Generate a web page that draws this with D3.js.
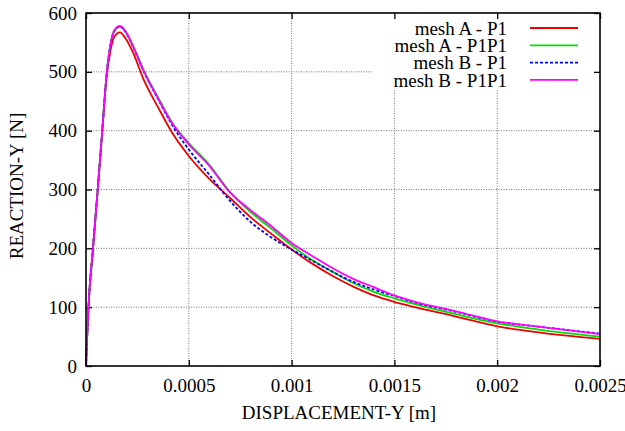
<!DOCTYPE html>
<html><head><meta charset="utf-8">
<script src="https://cdn.jsdelivr.net/npm/d3@7"></script>
<style>body{margin:0;background:#fff}svg{display:block}</style>
</head><body><svg id="c" width="625" height="431"></svg>
<script>
const disp = [0,0.000005,0.000012,0.000034,0.000057,0.000079,0.0001,0.00012,0.00014,0.000165,0.00019,0.00023,0.00028,0.00035,0.00042,0.0005,0.0006,0.0007,0.0008,0.0009,0.001,0.0011,0.0012,0.0013,0.0014,0.0015,0.0016,0.0018,0.002,0.0022,0.0025];
const meshA_P1   = [0,45,100,200,300,398,490,538,561,567,558,532,487,440,396,357,318,286,253,225,198,174,153,135,120,109,100,84,67.5,57,46];
const meshA_P1P1 = [0,45,100,200,300,400,495,548,571,577,569,543,503,457,413,379,342,296,262,234,205,180,160,141,126,115,105,88,72.5,62,50];
const meshB_P1   = [0,45,100,200,300,400,495,548,571,577,569,542,501,454,409,368,325,281,245,219,198,179,160,143,130,119,108,92,75.5,67,55];
const meshB_P1P1 = [0,45,100,200,300,400,495,548,572,578,570,543,502,455,412,377,340,295,265,238,209,187,166,148,134,120,109,93,76,67,54];
const seriesNames = ["mesh A - P1","mesh A - P1P1","mesh B - P1","mesh B - P1P1"];
const seriesVals = [meshA_P1, meshA_P1P1, meshB_P1, meshB_P1P1];
const seriesColors = ["#ee0000","#00dd00","#0000ff","#ff00ff"];
const seriesDash = [null,null,"3,2",null];
const xTicks = [0,0.0005,0.001,0.0015,0.002,0.0025];
const xTickLabels = ["0","0.0005","0.001","0.0015","0.002","0.0025"];
const yTicks = [0,100,200,300,400,500,600];

const L=86,R=600,T=13,B=366;
const svg=d3.select("#c");
const x=d3.scaleLinear().domain([0,0.0025]).range([L,R]);
const y=d3.scaleLinear().domain([0,600]).range([B,T]);
const font="'Liberation Serif','Times New Roman',serif";
const fs=19;

// grid
const g=svg.append("g");
g.selectAll("line.gx").data(xTicks.slice(1,-1)).join("line")
 .attr("x1",d=>x(d)).attr("x2",d=>x(d)).attr("y1",T).attr("y2",B)
 .attr("stroke","#777").attr("stroke-width",1).attr("stroke-dasharray","1,1.5");
g.selectAll("line.gy").data(yTicks.slice(1,-1)).join("line")
 .attr("x1",L).attr("x2",R).attr("y1",d=>y(d)).attr("y2",d=>y(d))
 .attr("stroke","#777").attr("stroke-width",1).attr("stroke-dasharray","1,1.5");

// legend background box
svg.append("rect").attr("x",372).attr("y",T+1).attr("width",R-372-1).attr("height",75).attr("fill","#fff");

// axes with inward ticks
const ax=svg.append("g").attr("font-family",font);
ax.append("g").attr("transform",`translate(0,${B})`).call(d3.axisBottom(x).tickValues(xTicks).tickFormat((d,i)=>xTickLabels[i]).tickSizeInner(-6).tickSizeOuter(0).tickPadding(13));
ax.append("g").attr("transform",`translate(0,${T})`).call(d3.axisTop(x).tickValues(xTicks).tickFormat("").tickSizeInner(-6).tickSizeOuter(0));
ax.append("g").attr("transform",`translate(${L},0)`).call(d3.axisLeft(y).tickValues(yTicks).tickSizeInner(-6).tickSizeOuter(0).tickPadding(9));
ax.append("g").attr("transform",`translate(${R},0)`).call(d3.axisRight(y).tickValues(yTicks).tickFormat("").tickSizeInner(-6).tickSizeOuter(0));
ax.selectAll(".domain").remove();
ax.selectAll(".tick line").attr("stroke","#000").attr("stroke-width",1.3);
ax.selectAll(".tick text").attr("font-size",fs).attr("fill","#000").attr("font-family",font);

// curves
const line=d3.line().x((d,i)=>x(disp[i])).y(d=>y(d)).curve(d3.curveMonotoneX);
const cg=svg.append("g");
seriesVals.forEach((vals,k)=>{
  cg.append("path").datum(vals).attr("d",line).attr("fill","none")
   .attr("stroke",seriesColors[k]).attr("stroke-width",1.8)
   .attr("stroke-dasharray",seriesDash[k]);
});

// frame
svg.append("rect").attr("x",L).attr("y",T).attr("width",R-L).attr("height",B-T)
 .attr("fill","none").attr("stroke","#000").attr("stroke-width",1.6);

// legend
const lg=svg.append("g").attr("font-family",font).attr("font-size",fs);
seriesNames.forEach((n,k)=>{
  const yy=28+k*17.3;
  lg.append("text").attr("x",507).attr("y",yy).attr("dy","0.35em").attr("text-anchor","end").text(n);
  lg.append("line").attr("x1",530).attr("x2",578).attr("y1",yy).attr("y2",yy)
   .attr("stroke",seriesColors[k]).attr("stroke-width",1.8).attr("stroke-dasharray",seriesDash[k]);
});

// axis titles
svg.append("text").attr("x",339).attr("y",419).attr("text-anchor","middle")
 .attr("font-family",font).attr("font-size",fs).text("DISPLACEMENT-Y [m]");
svg.append("text").attr("transform","translate(23,186) rotate(-90)").attr("text-anchor","middle")
 .attr("font-family",font).attr("font-size",fs).text("REACTION-Y [N]");
</script></body></html>
